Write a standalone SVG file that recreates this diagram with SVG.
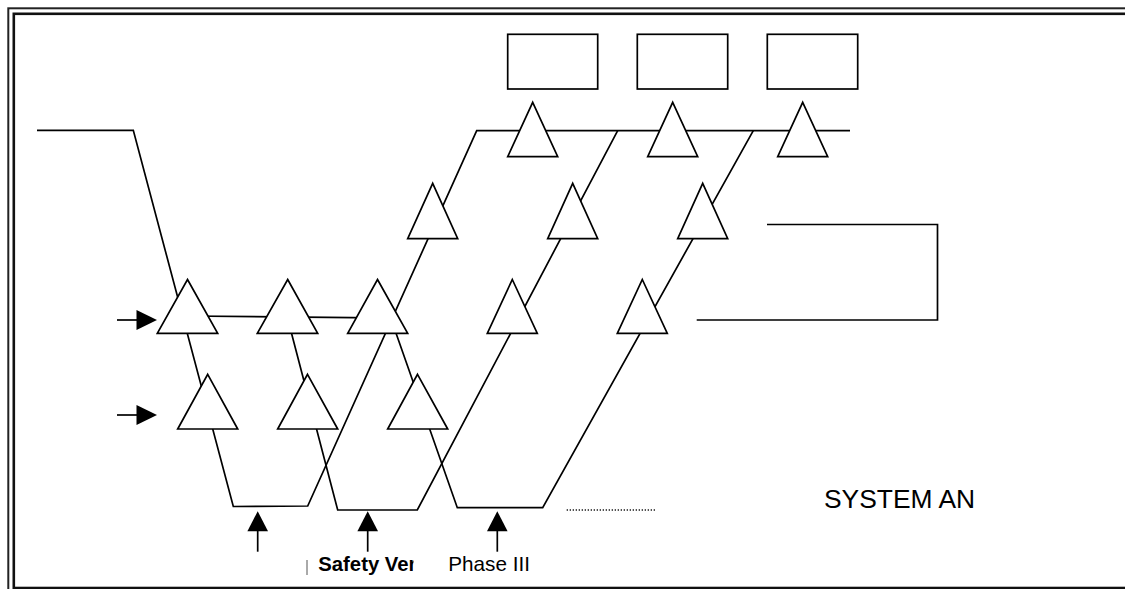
<svg xmlns="http://www.w3.org/2000/svg" width="1125" height="589" viewBox="0 0 1125 589">
<style>
.ln{fill:none;stroke:#000;stroke-width:1.7}
.tri{fill:#fff;stroke:#000;stroke-width:1.7;stroke-linejoin:miter}
.box{fill:#fff;stroke:#000;stroke-width:1.7}
.head{fill:#000;stroke:none}
.txt{font-family:"Liberation Sans",Arial,sans-serif;fill:#000}
</style>
<defs>
<path id="headR" class="head" d="M0,-10 L20.5,0 L0,10 Z"/>
<path id="headU" class="head" d="M-10.3,0 L0,-20 L10.3,0 Z"/>
<clipPath id="clipSafety"><rect x="300" y="540" width="113.5" height="45"/></clipPath>
</defs>
<rect x="8.3" y="8.3" width="1140" height="600" fill="#fff" stroke="#222" stroke-width="2"/>
<rect x="13.8" y="13.8" width="1130" height="574.2" fill="none" stroke="#111" stroke-width="2.6"/>
<g id="connectors">
<path class="ln" d="M37,130.3 L133.3,130.3 L233.3,506.5 L307.7,506 L476.7,130.7 L850,130.7"/>
<path class="ln" d="M287,316 L337.7,510 L417.3,510 L617.7,130.7"/>
<path class="ln" d="M390,316 L457.3,507.7 L542.7,507.7 L753.3,130.7"/>
<path class="ln" d="M187,316 L377,317.8"/>
<path class="ln" d="M767,224.5 H937.5 V320 H696.7"/>
<path class="ln" d="M566.7,510 H655" stroke-dasharray="1.2 1.8" stroke-width="1.2"/>
<g id="arrow-in-1"><path class="ln" d="M117,320 H140"/><use href="#headR" x="136.5" y="320"/></g>
<g id="arrow-in-2"><path class="ln" d="M117,415 H140"/><use href="#headR" x="136.5" y="415"/></g>
<g id="arrow-up-1"><path class="ln" d="M257.7,551.7 V528"/><use href="#headU" x="257.7" y="531.2"/></g>
<g id="arrow-up-2"><path class="ln" d="M367.7,551.7 V528"/><use href="#headU" x="367.7" y="531.2"/></g>
<g id="arrow-up-3"><path class="ln" d="M497.3,551.7 V528"/><use href="#headU" x="497.3" y="531.2"/></g>
</g>
<g id="boxes">
<rect id="box1" class="box" x="507.7" y="34.3" width="90" height="54.7"/>
<rect id="box2" class="box" x="637.3" y="34.3" width="90.4" height="54.7"/>
<rect id="box3" class="box" x="767.3" y="34.3" width="90.4" height="54.7"/>
</g>
<g id="top-row">
<polygon id="t1" class="tri" points="532.7,102.3 557.7,156.7 507.7,156.7"/>
<polygon id="t2" class="tri" points="672.7,102.3 697.7,156.7 647.7,156.7"/>
<polygon id="t3" class="tri" points="802.7,102.3 827.7,156.7 777.7,156.7"/>
</g>
<g id="mid-row">
<polygon id="m1" class="tri" points="432.7,183.3 457.7,238.7 407.7,238.7"/>
<polygon id="m2" class="tri" points="572.7,183.3 597.7,238.7 547.7,238.7"/>
<polygon id="m3" class="tri" points="702.7,183.3 727.7,238.7 677.7,238.7"/>
</g>
<g id="row1">
<polygon id="r1a" class="tri" points="187.5,279.5 217.7,333.3 157.3,333.3"/>
<polygon id="r1b" class="tri" points="287.7,279.5 317.7,333.3 257.3,333.3"/>
<polygon id="r1c" class="tri" points="377.5,279.5 407.7,333.3 347.7,333.3"/>
<polygon id="r1d" class="tri" points="512.3,279.5 537.3,333.3 487.3,333.3"/>
<polygon id="r1e" class="tri" points="642.3,279.5 667.3,333.3 617.3,333.3"/>
</g>
<g id="row2">
<polygon id="r2a" class="tri" points="207.7,374.3 237.7,429 177.7,429"/>
<polygon id="r2b" class="tri" points="307.5,374.3 337.7,429 277.7,429"/>
<polygon id="r2c" class="tri" points="417.5,374.3 447.7,429 387.7,429"/>
</g>
<g id="labels">
<line x1="307" y1="560" x2="307" y2="575" stroke="#555" stroke-width="1"/>
<text class="txt" x="318.3" y="571" font-size="20.3" font-weight="bold" clip-path="url(#clipSafety)">Safety Ver</text>
<text class="txt" x="448.3" y="571" font-size="20.7">Phase III</text>
<text class="txt" x="824" y="508.3" font-size="26.4">SYSTEM AN</text>
</g>
</svg>
